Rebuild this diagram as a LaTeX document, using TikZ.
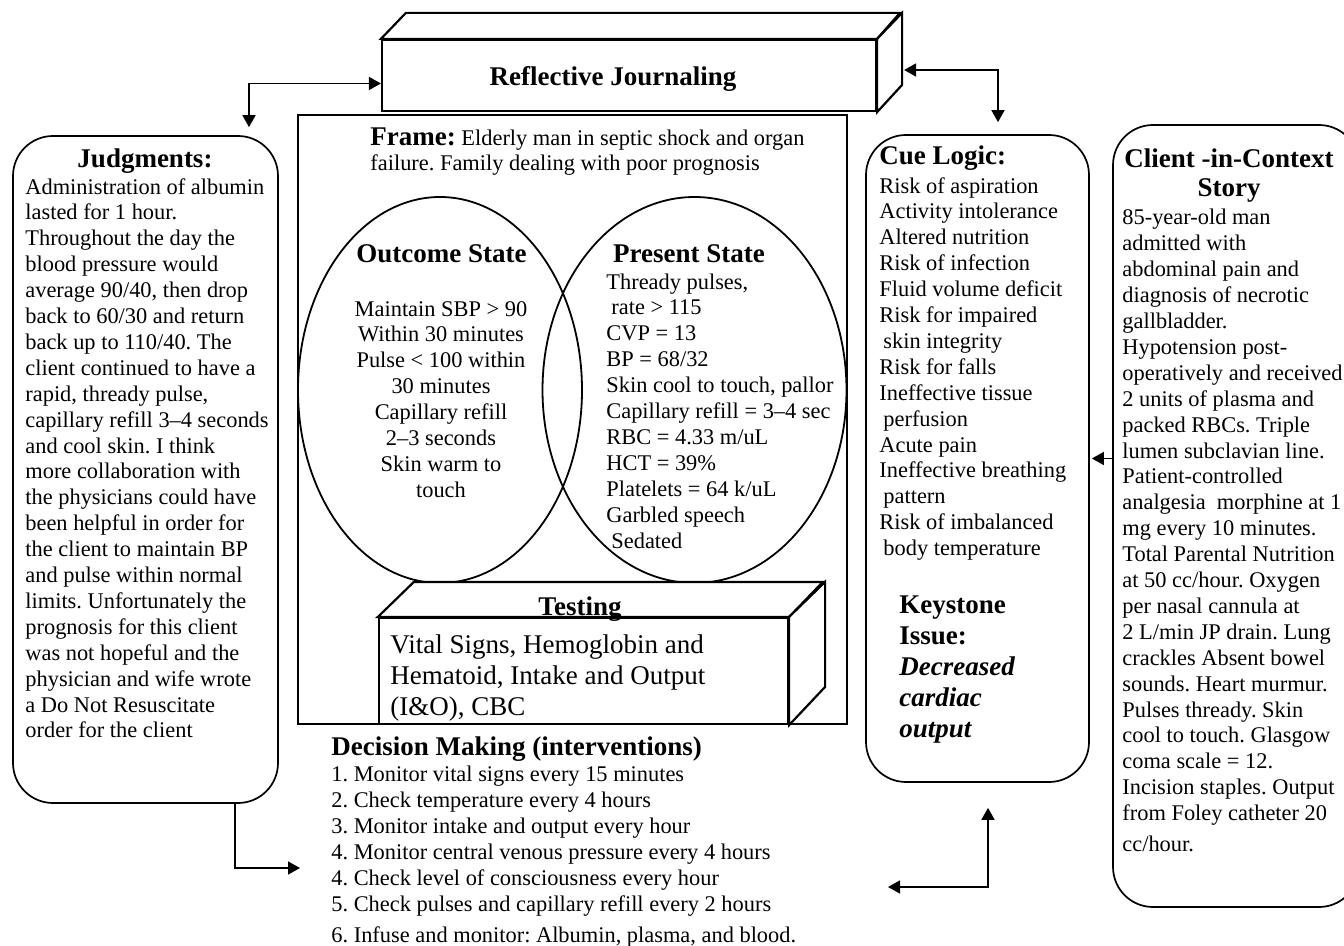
\documentclass[tikz,border=0pt]{standalone}
\usepackage{fontspec}
\setmainfont{Liberation Serif}
\usetikzlibrary{shapes.geometric,arrows.meta,calc}
\newcommand\myfs{\fontsize{11.2}{12.95}\selectfont\frenchspacing}
\newcommand\myfb{\fontsize{13.5}{15.5}\selectfont\frenchspacing}
\begin{document}
\begin{tikzpicture}[x=0.5pt,y=-0.5pt,
  tx/.style={inner sep=0pt, anchor=north west, align=left, font=\myfs},
  tc/.style={inner sep=0pt, anchor=north, align=center, font=\myfs},
  ttl/.style={inner sep=0pt, anchor=base, font=\myfb\bfseries},
  ttlw/.style={inner sep=0pt, anchor=base west, font=\myfb\bfseries},
  rbox/.style={draw, line width=0.85pt, rounded corners=20pt, inner sep=0pt},
  sbox/.style={draw, line width=1.1pt, inner sep=0pt, fill=white},
  face/.style={draw, line width=1.1pt, fill=white, line join=miter},
  ell/.style={draw, ellipse, line width=0.9pt, inner sep=0pt},
  arr/.style={line width=0.8pt, -{Triangle[length=6pt,width=6.5pt]}},
  darr/.style={line width=0.8pt, {Triangle[length=6pt,width=6.5pt]}-{Triangle[length=6pt,width=6.5pt]}}]
\useasboundingbox (0,0) rectangle (1344,946);

% ---------- Reflective Journaling (3D box)
\node[sbox, minimum width=247pt, minimum height=35.5pt] (refl) at (629,75.5) {};
\draw[face] (refl.north west) -- ++(25,-26) -- ++(494,0) -- (refl.north east) -- cycle;
\draw[face] (refl.north east) -- ++(25,-26) -- ++(0,72) -- (refl.south east) -- cycle;
\node[ttl] (rj) at (613,86) {Reflective Journaling};

% ---------- Frame box
\node[sbox, fill=none, minimum width=274.5pt, minimum height=304.5pt] (frame) at (572.5,419.5) {};
\node[tx] (ft) at (370,126.5) {\strut{\myfb\bfseries Frame:} Elderly man in septic shock and organ\\failure. Family dealing with poor prognosis};

% ---------- Ellipses
\node[ell, minimum width=142pt, minimum height=193pt] (outc) at (440,390) {};
\node[ell, minimum width=152pt, minimum height=193pt] (pres) at (694.5,390) {};
\node[ttl] (ot) at (441.5,263) {Outcome State};
\node[tc] (ob) at (441,297.5) {\strut Maintain SBP > 90\\Within 30 minutes\\Pulse < 100 within\\30 minutes\\Capillary refill\\2–3 seconds\\Skin warm to\\touch};
\node[ttl] (pt) at (689,263) {Present State};
\node[tx] (pb) at (606,270.5) {\strut Thready pulses,\\\hspace*{2.5pt}rate > 115\\CVP = 13\\BP = 68/32\\Skin cool to touch, pallor\\Capillary refill = 3–4 sec\\RBC = 4.33 m/uL\\HCT = 39\%\\Platelets = 64 k/uL\\Garbled speech\\\hspace*{2.5pt}Sedated};

% ---------- Testing (3D box)
\node[sbox, minimum width=204.5pt, minimum height=53pt] (test) at (583.5,671) {};
\draw[face] (test.north west) -- ++(36,-35) -- ++(409,0) -- (test.north east) -- cycle;
\draw[face] (test.north east) -- ++(36,-35) -- ++(0,105) -- (test.south east) -- cycle;
\node[ttl] (tt) at (580,615) {Testing};
\node[tx, font=\myfb] (tb) at (390,631.3) {\strut Vital Signs, Hemoglobin and\\Hematoid, Intake and Output\\(I\&O), CBC};

% ---------- Decision making
\node[ttlw] (dmt) at (331,755) {Decision Making (interventions)};
\node[tx] (dm) at (331,763.4) {\strut 1. Monitor vital signs every 15 minutes\\2. Check temperature every 4 hours\\3. Monitor intake and output every hour\\4. Monitor central venous pressure every 4 hours\\4. Check level of consciousness every hour\\5. Check pulses and capillary refill every 2 hours\\[2.5pt]6. Infuse and monitor: Albumin, plasma, and blood.};

% ---------- Judgments
\node[rbox, minimum width=132.5pt, minimum height=333.5pt] (judg) at (145.5,469.5) {};
\node[ttl] (jt) at (145,168) {Judgments:};
\node[tx] (jb) at (25,175.5) {\strut Administration of albumin\\lasted for 1 hour.\\Throughout the day the\\blood pressure would\\average 90/40, then drop\\back to 60/30 and return\\back up to 110/40. The\\client continued to have a\\rapid, thready pulse,\\capillary refill 3–4 seconds\\and cool skin. I think\\more collaboration with\\the physicians could have\\been helpful in order for\\the client to maintain BP\\and pulse within normal\\limits. Unfortunately the\\prognosis for this client\\was not hopeful and the\\physician and wife wrote\\a Do Not Resuscitate\\order for the client};

% ---------- Cue Logic
\node[rbox, minimum width=111.5pt, minimum height=323.5pt] (cue) at (977.5,458.5) {};
\node[ttlw] (ct) at (879,165) {Cue Logic:};
\node[tx] (cb) at (879,174.5) {\strut Risk of aspiration\\Activity intolerance\\Altered nutrition\\Risk of infection\\Fluid volume deficit\\Risk for impaired\\\hspace*{2pt}skin integrity\\Risk for falls\\Ineffective tissue\\\hspace*{2pt}perfusion\\Acute pain\\Ineffective breathing\\\hspace*{2pt}pattern\\Risk of imbalanced\\\hspace*{2pt}body temperature};
\node[tx, font=\myfb\bfseries] (ks) at (899,591.3) {\strut Keystone\\Issue:\\\textit{Decreased}\\\textit{cardiac}\\\textit{output}};

% ---------- Client-in-Context Story
\node[rbox, minimum width=123pt, minimum height=391pt] (client) at (1236,516) {};
\node[tc, font=\fontsize{13.5}{14.2}\selectfont\bfseries] (clt) at (1229,147.5) {\strut Client -in-Context\\Story};
\node[tx] (clb) at (1122,206.4) {\strut 85-year-old man\\admitted with\\abdominal pain and\\diagnosis of necrotic\\gallbladder.\\Hypotension post-\\operatively and received\\2 units of plasma and\\packed RBCs. Triple\\lumen subclavian line.\\Patient-controlled\\analgesia~ morphine at 1\\mg every 10 minutes.\\Total Parental Nutrition\\at 50 cc/hour. Oxygen\\per nasal cannula at\\2 L/min JP drain. Lung\\crackles Absent bowel\\sounds. Heart murmur.\\Pulses thready. Skin\\cool to touch. Glasgow\\coma scale = 12.\\Incision staples. Output\\from Foley catheter 20\\[2.5pt]cc/hour.};

% ---------- Connectors
\draw[darr, shorten >=4pt] ([yshift=-4pt]refl.west) -| ([xshift=51.75pt]judg.north);
\draw[darr, shorten >=6pt] ([xshift=13.5pt,yshift=2.75pt]refl.east) -| ([xshift=10.25pt]cue.north);
\draw[arr] ([xshift=44.75pt]judg.south) |- ([xshift=-15.5pt,yshift=-52.3pt]dm.north west);
\coordinate (dmR) at (888,887);
\draw[darr] ([xshift=5.25pt,yshift=-12.5pt]cue.south) |- (dmR);
\draw[arr, shorten >=1pt] (client.west |- cue.east) -- (cue.east);
\end{tikzpicture}
\end{document}
